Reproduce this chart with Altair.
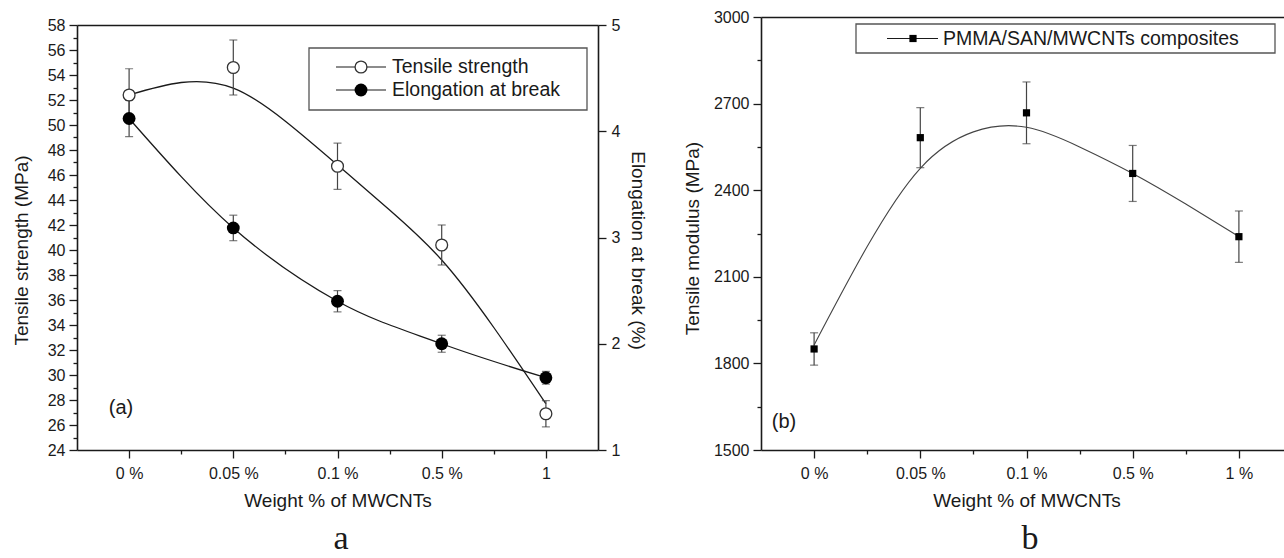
import altair as alt
import pandas as pd

# ---------------- data ----------------
categories_a = ["0 %", "0.05 %", "0.1 %", "0.5 %", "1"]
categories_b = ["0 %", "0.05 %", "0.1 %", "0.5 %", "1 %"]

tensile_strength = [52.4, 54.6, 46.7, 40.4, 26.9]
tensile_strength_err = [2.1, 2.2, 1.85, 1.6, 1.05]
elongation = [4.12, 3.09, 2.40, 2.00, 1.68]
elongation_err = [0.17, 0.12, 0.10, 0.08, 0.06]
modulus = [1850, 2582, 2668, 2458, 2239]
modulus_err = [56, 104, 107, 97, 89]

# smooth fitted curves (position on the category axis, value)
ts_fit_x = [0, 0.5, 1.0, 1.5, 2.0, 2.5, 3.0, 3.5, 4.0]
ts_fit_y = [52.4, 53.4, 52.95, 50.3, 46.8, 43.2, 39.2, 33.8, 27.7]
mod_fit_x = [0, 0.5, 1.0, 1.5, 2.0, 2.5, 3.0, 3.5, 4.0]
mod_fit_y = [1864, 2205, 2476, 2602, 2618, 2550, 2458, 2352, 2239]

legend_a = ["Tensile strength", "Elongation at break"]
legend_b = "PMMA/SAN/MWCNTs composites"

# ---------------- tables ----------------
dfa = pd.DataFrame({
    "pos": list(range(len(categories_a))),
    "ts": tensile_strength, "ts_err": tensile_strength_err,
    "el": elongation, "el_err": elongation_err,
})
dfa["ts_lo"] = dfa.ts - dfa.ts_err
dfa["ts_hi"] = dfa.ts + dfa.ts_err
dfa["el_lo"] = dfa.el - dfa.el_err
dfa["el_hi"] = dfa.el + dfa.el_err

dfb = pd.DataFrame({"pos": list(range(len(categories_b))), "m": modulus, "m_err": modulus_err})
dfb["m_lo"] = dfb.m - dfb.m_err
dfb["m_hi"] = dfb.m + dfb.m_err

fit_a = pd.DataFrame({"x": ts_fit_x, "y": ts_fit_y})
fit_b = pd.DataFrame({"x": mod_fit_x, "y": mod_fit_y})

# ---------------- styling ----------------
FONT = "Liberation Sans"
INK = "#1a1a1a"
one = alt.Data(values=[{}])

XA = alt.Scale(domain=[-0.5, 4.5], range=[77, 598], nice=False, zero=False)
YA = alt.Scale(domain=[24, 58], range=[450, 25], nice=False, zero=False)
YA2 = alt.Scale(domain=[1, 5], range=[450, 25], nice=False, zero=False)
XB = alt.Scale(domain=[-0.5, 4.5], range=[761, 1292], nice=False, zero=False)
YB = alt.Scale(domain=[1500, 3000], range=[450, 17], nice=False, zero=False)

common = dict(domainColor=INK, domainWidth=1.6, tickColor=INK, tickWidth=1.3,
              labelFont=FONT, labelFontSize=16, labelColor=INK,
              titleFont=FONT, titleFontSize=19, titleFontWeight="normal",
              titleColor=INK, grid=False)


def tsize(test):
    return {"condition": {"test": test, "value": 8}, "value": 4}


def js_list(items):
    return "[" + ",".join("'" + s + "'" for s in items) + "]"


xvals = [i / 2 for i in range(0, 2 * (len(categories_a) - 1) + 1)]

axis_xa = alt.Axis(orient="bottom", offset=-108, values=xvals,
                   labelExpr="datum.value % 1 === 0 ? " + js_list(categories_a) + "[datum.value] : ''",
                   tickSize=tsize("datum.value % 1 === 0"), labelPadding=7,
                   title="Weight % of MWCNTs", titleY=50, titleBaseline="middle", **common)
axis_xb = alt.Axis(orient="bottom", offset=-108, values=xvals,
                   labelExpr="datum.value % 1 === 0 ? " + js_list(categories_b) + "[datum.value] : ''",
                   tickSize=tsize("datum.value % 1 === 0"), labelPadding=7,
                   title="Weight % of MWCNTs", titleY=50, titleBaseline="middle", **common)
axis_ya = alt.Axis(orient="left", offset=-77, values=list(range(24, 59)), format="d",
                   labelExpr="datum.value % 2 === 0 ? datum.label : ''",
                   tickSize=tsize("datum.value % 2 === 0"), labelPadding=4,
                   title="Tensile strength (MPa)", titleX=-56, titleY=250, titleAngle=-90,
                   titleBaseline="middle", titleAlign="center", **common)
axis_ya2 = alt.Axis(orient="right", offset=-686, values=[1 + i / 2 for i in range(9)], format="d",
                    labelExpr="datum.value % 1 === 0 ? datum.label : ''",
                    tickSize=tsize("datum.value % 1 === 0"), labelPadding=5,
                    title="Elongation at break (%)", titleX=39, titleY=250, titleAngle=90,
                    titleBaseline="middle", titleAlign="center", **common)
axis_yb = alt.Axis(orient="left", offset=-761, values=list(range(1500, 3001, 150)), format="d",
                   labelExpr="datum.value % 300 === 0 ? datum.label : ''",
                   tickSize=tsize("datum.value % 300 === 0"), labelPadding=4,
                   title="Tensile modulus (MPa)", titleX=-69, titleY=238, titleAngle=-90,
                   titleBaseline="middle", titleAlign="center", **common)
axis_top_a = alt.Axis(orient="top", offset=-25, ticks=False, labels=False, title=None,
                      domainColor=INK, domainWidth=1.6, grid=False)
axis_top_b = alt.Axis(orient="top", offset=-17, ticks=False, labels=False, title=None,
                      domainColor=INK, domainWidth=1.6, grid=False)

layers = []

# ---------------- panel a ----------------
layers.append(alt.Chart(fit_a).mark_line(interpolate="natural", color=INK, strokeWidth=1.3).encode(
    x=alt.X("x:Q", scale=XA, axis=axis_xa), y=alt.Y("y:Q", scale=YA, axis=axis_ya)))
layers.append(alt.Chart(dfa).mark_rule(color="#444", strokeWidth=1.2).encode(
    x=alt.X("pos:Q", scale=XA, axis=axis_top_a), y=alt.Y("ts_lo:Q", scale=YA, axis=None), y2="ts_hi:Q"))
for col in ["ts_lo", "ts_hi"]:
    layers.append(alt.Chart(dfa).mark_tick(orient="horizontal", size=8, thickness=1.2, color="#444").encode(
        x=alt.X("pos:Q", scale=XA, axis=None), y=alt.Y(col + ":Q", scale=YA, axis=None)))
layers.append(alt.Chart(dfa).mark_line(interpolate="monotone", color=INK, strokeWidth=1.3).encode(
    x=alt.X("pos:Q", scale=XA, axis=None), y=alt.Y("el:Q", scale=YA2, axis=axis_ya2)))
layers.append(alt.Chart(dfa).mark_rule(color="#444", strokeWidth=1.2).encode(
    x=alt.X("pos:Q", scale=XA, axis=None), y=alt.Y("el_lo:Q", scale=YA2, axis=None), y2="el_hi:Q"))
for col in ["el_lo", "el_hi"]:
    layers.append(alt.Chart(dfa).mark_tick(orient="horizontal", size=8, thickness=1.2, color="#444").encode(
        x=alt.X("pos:Q", scale=XA, axis=None), y=alt.Y(col + ":Q", scale=YA2, axis=None)))
layers.append(alt.Chart(dfa).mark_point(shape="circle", filled=True, size=165, color="#000", opacity=1).encode(
    x=alt.X("pos:Q", scale=XA, axis=None), y=alt.Y("el:Q", scale=YA2, axis=None)))
layers.append(alt.Chart(dfa).mark_point(shape="circle", size=140, fill="white", stroke="#333",
                                        strokeWidth=1.3, opacity=1, fillOpacity=1).encode(
    x=alt.X("pos:Q", scale=XA, axis=None), y=alt.Y("ts:Q", scale=YA, axis=None)))

# ---------------- panel b ----------------
layers.append(alt.Chart(fit_b).mark_line(interpolate="natural", color="#444", strokeWidth=1.1).encode(
    x=alt.X("x:Q", scale=XB, axis=axis_xb), y=alt.Y("y:Q", scale=YB, axis=axis_yb)))
layers.append(alt.Chart(dfb).mark_rule(color="#444", strokeWidth=1.2).encode(
    x=alt.X("pos:Q", scale=XB, axis=axis_top_b), y=alt.Y("m_lo:Q", scale=YB, axis=None), y2="m_hi:Q"))
for col in ["m_lo", "m_hi"]:
    layers.append(alt.Chart(dfb).mark_tick(orient="horizontal", size=8, thickness=1.2, color="#444").encode(
        x=alt.X("pos:Q", scale=XB, axis=None), y=alt.Y(col + ":Q", scale=YB, axis=None)))
layers.append(alt.Chart(dfb).mark_point(shape="square", filled=True, size=52, color="#000", opacity=1).encode(
    x=alt.X("pos:Q", scale=XB, axis=None), y=alt.Y("m:Q", scale=YB, axis=None)))

# ---------------- legends and labels ----------------
layers.append(alt.Chart(one).mark_rect(fill="white", stroke="#555", strokeWidth=1.3).encode(
    x=alt.value(309), x2=alt.value(587), y=alt.value(48), y2=alt.value(110)))
for yy, name, filled in [(67, legend_a[0], False), (90, legend_a[1], True)]:
    layers.append(alt.Chart(one).mark_rule(color=INK, strokeWidth=1.2).encode(
        x=alt.value(336), x2=alt.value(386), y=alt.value(yy)))
    if filled:
        layers.append(alt.Chart(one).mark_point(shape="circle", filled=True, size=165, color="#000", opacity=1).encode(
            x=alt.value(361), y=alt.value(yy)))
    else:
        layers.append(alt.Chart(one).mark_point(shape="circle", size=140, fill="white", stroke="#333",
                                                strokeWidth=1.3, opacity=1, fillOpacity=1).encode(
            x=alt.value(361), y=alt.value(yy)))
    layers.append(alt.Chart(one).mark_text(font=FONT, fontSize=19.5, color=INK, align="left", baseline="middle").encode(
        x=alt.value(392), y=alt.value(yy), text=alt.value(name)))

layers.append(alt.Chart(one).mark_rect(fill="white", stroke="#555", strokeWidth=1.3).encode(
    x=alt.value(856), x2=alt.value(1275), y=alt.value(24), y2=alt.value(53)))
layers.append(alt.Chart(one).mark_rule(color=INK, strokeWidth=1.2).encode(
    x=alt.value(887), x2=alt.value(938), y=alt.value(38.5)))
layers.append(alt.Chart(one).mark_point(shape="square", filled=True, size=52, color="#000", opacity=1).encode(
    x=alt.value(913), y=alt.value(38.5)))
layers.append(alt.Chart(one).mark_text(font=FONT, fontSize=19.5, color=INK, align="left", baseline="middle").encode(
    x=alt.value(943), y=alt.value(38.5), text=alt.value(legend_b)))

for xx, yy, txt in [(121, 408, "(a)"), (784, 422, "(b)")]:
    layers.append(alt.Chart(one).mark_text(font=FONT, fontSize=20, color=INK, align="center", baseline="middle").encode(
        x=alt.value(xx), y=alt.value(yy), text=alt.value(txt)))
for xx, txt in [(341, "a"), (1030, "b")]:
    layers.append(alt.Chart(one).mark_text(font="Liberation Serif", fontSize=34, color=INK, align="center",
                                           baseline="alphabetic").encode(
        x=alt.value(xx), y=alt.value(549), text=alt.value(txt)))

chart = alt.layer(*layers).resolve_scale(x="independent", y="independent").properties(
    width=1284, height=558, padding=0, background="white",
    autosize=alt.AutoSizeParams(type="none"),
).configure_view(stroke=None)

chart.save("out.html", embed_options={"renderer": "svg", "actions": False})
